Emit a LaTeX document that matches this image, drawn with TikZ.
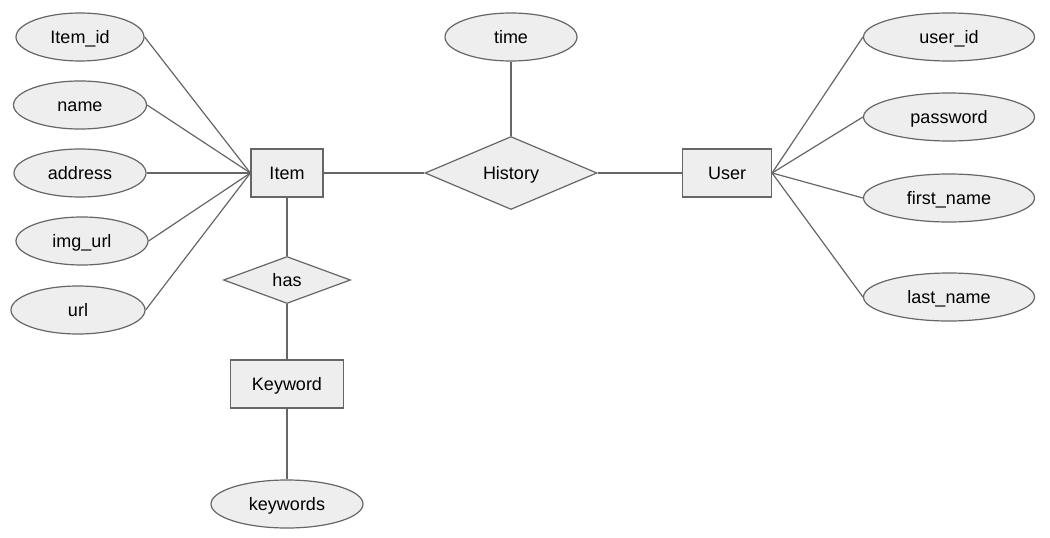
\documentclass[tikz,border=0pt]{standalone}
\usepackage{fontspec}
\setmainfont{Liberation Sans}
\usetikzlibrary{shapes.geometric}
\definecolor{shapefill}{HTML}{EEEEEE}
\definecolor{shapeline}{HTML}{666666}

\begin{document}
\begin{tikzpicture}[x=1pt,y=-1pt,line width=1.2pt]
% Styles
\tikzstyle{base}=[draw=shapeline,fill=shapefill,inner sep=0pt,text height=12.9pt,text depth=0pt,font=\fontsize{18}{21}\selectfont]
\tikzstyle{attribute}=[base,ellipse,minimum height=48pt]
\tikzstyle{entity}=[base,rectangle,minimum height=48pt]
\tikzstyle{relation}=[base,diamond]
\tikzstyle{link}=[draw=shapeline]

\useasboundingbox (0,0) rectangle (1050,538);

% entities and relations
\node[entity,minimum width=72pt] (item) at (287,173) {Item};
\node[entity,minimum width=89pt] (user) at (727,173) {User};
\node[entity,minimum width=113pt] (keyword) at (287,384) {Keyword};
\node[relation,minimum width=172pt,minimum height=73pt] (history) at (511,173) {History};
\node[relation,minimum width=127pt,minimum height=47pt] (has) at (287,280) {has};

% attributes of Item
\foreach \n/\x/\y/\w/\t in {itemid/80/37/128/Item\_id, name/80/105/133/name,
address/80/173/132/address, imgurl/82/241/132/img\_url, url/78/310/134/url} {
\node[attribute,minimum width=\w pt] (\n) at (\x,\y) {\t};
\draw[link] (\n.east) -- (item.west);
}

% attributes of User
\foreach \n/\y/\t in {userid/37/user\_id, password/117/password,
firstname/198/first\_name, lastname/297/last\_name} {
\node[attribute,minimum width=171pt] (\n) at (949,\y) {\t};
\draw[link] (user.east) -- (\n.west);
}

% remaining attributes
\node[attribute,minimum width=132pt] (time) at (511,37) {time};
\node[attribute,minimum width=152pt] (keywords) at (287,504) {keywords};

% links
\draw[link] (item) -- (history);
\draw[link] (history) -- (user);
\draw[link] (time) -- (history);
\draw[link] (item) -- (has);
\draw[link] (has) -- (keyword);
\draw[link] (keyword) -- (keywords);

\end{tikzpicture}
\end{document}
